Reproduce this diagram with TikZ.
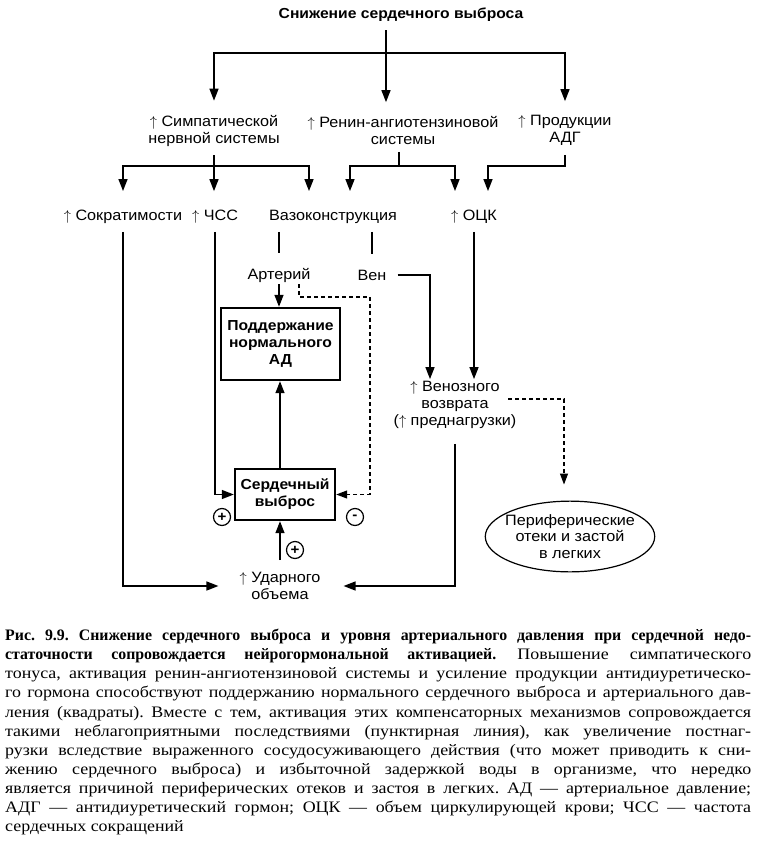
\documentclass[tikz,border=0pt]{standalone}
\usepackage{fontspec}
\setmainfont{Liberation Serif}
\setsansfont{Liberation Sans}[FakeStretch=1.08]
\newfontfamily\capfont{Liberation Serif}[FakeStretch=1.12]
\newfontfamily\capbf{Liberation Serif}[FakeStretch=0.99]
\usetikzlibrary{arrows.meta,shapes.geometric}

\newcommand{\upa}{$\uparrow$}

\tikzset{
  lbl/.style={font=\sffamily\fontsize{15}{17}\selectfont, align=center, inner sep=2pt},
  boxlbl/.style={draw, line width=2.4pt, font=\sffamily\bfseries\fontsize{14.5}{17}\selectfont, align=center, inner sep=2pt},
  conn/.style={line width=1.4pt},
  arr/.style={conn, -{Triangle[length=12pt,width=9pt]}},
  dasharr/.style={line width=1.1pt, dash pattern=on 4pt off 3pt, -{Triangle[length=11pt,width=8pt]}},
  sign/.style={circle, draw, line width=1.2pt, minimum size=17pt, inner sep=0pt, font=\sffamily\bfseries\fontsize{14}{14}\selectfont},
}

\begin{document}
\begin{tikzpicture}[x=1pt,y=-1pt]
	\useasboundingbox (0,0) rectangle (756,845);
	% top level
	\node[lbl, font=\sffamily\bfseries\fontsize{14.5}{17}\selectfont] (cut) at (401,15) {Снижение сердечного выброса};
	\node[lbl] (symp) at (214,130.5) {\upa{} Симпатической\\нервной системы};
	\node[lbl] (renin) at (403,130.5) {\upa{} Ренин-ангиотензиновой\\системы};
	\node[lbl] (adh) at (565,130.5) {\upa{} Продукции\\АДГ};
	\coordinate (top) at (386,53);
	\draw[arr, shorten <=6pt, shorten >=12pt] (cut.south -| top) -- (top) -| (symp.north);
	\draw[arr, shorten >=12pt] (top) -- (top |- renin.north);
	\draw[arr, shorten >=12pt] (top) -| (adh.north);
	% second level
	\node[lbl] (contr) at (123,217) {\upa{} Сократимости};
	\node[lbl] (hr) at (215,217) {\upa{} ЧСС};
	\node[lbl] (vaso) at (333,217) {Вазоконструкция};
	\node[lbl] (ock) at (474,217) {\upa{} ОЦК};
	\coordinate (sj) at (214,166);
	\coordinate (vs) at (309,166);
	\coordinate (rj) at (399,166);
	\coordinate (vr) at (350,166);
	\coordinate (ob) at (455,166);
	\coordinate (oa) at (488,166);
	\draw[conn, shorten <=7pt] (symp.south) -- (sj);
	\draw[arr, shorten >=17pt] (sj) -| (contr.north);
	\draw[arr, shorten >=17pt] (sj) -- (sj |- hr.north);
	\draw[arr, shorten >=17pt] (sj) -- (vs) -- (vs |- vaso.north);
	\draw[conn, shorten <=5pt] (renin.south -| rj) -- (rj);
	\draw[arr, shorten >=17pt] (rj) -- (vr) -- (vr |- vaso.north);
	\draw[arr, shorten >=17pt] (rj) -- (ob) -- (ob |- ock.north);
	\draw[arr, shorten <=7pt, shorten >=17pt] (adh.south) |- (oa) -- (oa |- ock.north);
	% vessels
	\node[lbl] (art) at (279,275) {Артерий};
	\node[lbl] (ven) at (372,275) {Вен};
	\draw[conn, shorten <=6pt, shorten >=13pt] (vaso.south -| art) -- (art.north);
	\draw[conn, shorten <=6pt, shorten >=14pt] (vaso.south -| ven) -- (ven.north);
	% boxes
	\node[boxlbl, minimum width=119pt, minimum height=72pt] (bp) at (280.5,344) {Поддержание\\нормального\\АД};
	\node[boxlbl, minimum width=100pt, minimum height=51pt] (co) at (285,494.5) {Сердечный\\выброс};
	\node[lbl] (venret) at (455,405) {\upa{} Венозного\\возврата\\(\upa{} преднагрузки)};
	\node[lbl] (sv) at (280,586) {\upa{} Ударного\\объема};
	\node[draw, ellipse, line width=1.2pt, font=\sffamily\fontsize{15}{16.5}\selectfont, align=center,
		inner xsep=-5pt, inner ysep=3pt] (edema) at (570,536.5) {Периферические\\отеки и застой\\в легких};
	\node[sign] (p1) at (222,517) {+};
	\node[sign] (m1) at (355,517) {-};
	\node[sign] (p2) at (295,550) {+};
	% links
	\coordinate (cx) at (280,0);
	\coordinate (d1) at (299,297);
	\coordinate (d2) at (370,297);
	\coordinate (vx) at (430,0);
	\coordinate (es) at (508,399);
	\coordinate (ej) at (564,399);
	\draw[arr] (art.south) -- (bp.north -| art);
	\draw[dasharr] (art.south -| d1) -- (d1) -- (d2) |- (co.east);
	\draw[arr, shorten <=9pt] (ven.east) -| (vx |- venret.north);
	\draw[arr, shorten <=6pt] (ock.south) -- (ock.south |- venret.north);
	\draw[dasharr, shorten >=16pt] (es) -- (ej) -- (ej |- edema.north);
	\draw[arr, shorten <=6pt] (hr.south) |- (co.west);
	\draw[arr] (co.north -| cx) -- (bp.south -| cx);
	\draw[arr, shorten <=10pt] (sv.north -| cx) -- (co.south -| cx);
	\draw[arr, shorten <=6pt, shorten >=19pt] (contr.south) |- (sv.west);
	\draw[arr, shorten <=13pt, shorten >=21pt] (venret.south) |- (sv.east);
	% caption
	\node[anchor=north west, inner sep=0pt, text width=746pt, align=justify,
		font=\capfont\fontsize{16}{19.1}\selectfont] (cap) at (5,629) {\hyphenpenalty=10000 \frenchspacing
		{\capbf\bfseries Рис. 9.9. Снижение сердечного выброса и уровня артериального давления при сердечной недо-\linebreak
		статочности сопровождается нейрогормональной активацией.} Повышение симпатического\linebreak
		тонуса, активация ренин-ангиотензиновой системы и усиление продукции антидиуретическо-\linebreak
		го гормона способствуют поддержанию нормального сердечного выброса и артериального дав-\linebreak
		ления (квадраты). Вместе с тем, активация этих компенсаторных механизмов сопровождается\linebreak
		такими неблагоприятными последствиями (пунктирная линия), как увеличение постнаг-\linebreak
		рузки вследствие выраженного сосудосуживающего действия (что может приводить к сни-\linebreak
		жению сердечного выброса) и избыточной задержкой воды в организме, что нередко\linebreak
		является причиной периферических отеков и застоя в легких. АД — артериальное давление;\linebreak
		АДГ — антидиуретический гормон; ОЦК — объем циркулирующей крови; ЧСС — частота\linebreak
		сердечных сокращений};
\end{tikzpicture}
\end{document}
